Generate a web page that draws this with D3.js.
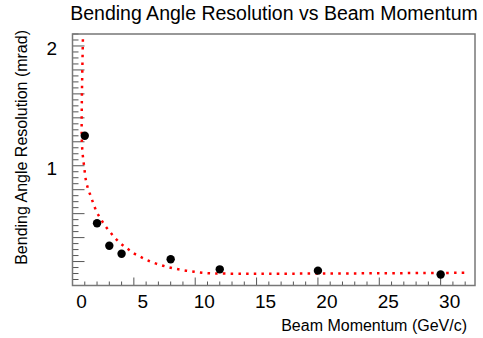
<!DOCTYPE html>
<html>
<head>
<meta charset="utf-8">
<script src="https://cdn.jsdelivr.net/npm/d3@7"></script>
<style>
  body { margin: 0; background: #fff; }
  text { font-family: "Liberation Sans", Arial, sans-serif; fill: #000; }
</style>
</head>
<body>
<svg></svg>
<script>
const width = 483, height = 338;
const svg = d3.select("svg").attr("width", width).attr("height", height);

// measured points
const momentum = [1, 2, 3, 4, 8, 12, 20, 30];
const resolution = [1.25, 0.52, 0.332, 0.265, 0.219, 0.135, 0.124, 0.092];

// fit curve
const fitX = [0.86, 0.80, 0.76, 0.75, 0.80, 0.94, 1.10, 1.29, 1.51, 1.73, 1.97, 2.30, 2.65, 3.03, 3.44, 3.93,
              4.45, 4.96, 5.53, 6.13, 6.75, 7.38, 8.0, 8.63, 9.26, 9.91, 10.56, 11.2, 12, 14, 16, 20, 25, 30, 32.2];
const fitY = [2.12, 1.80, 1.53, 1.27, 1.13, 1.00, 0.875, 0.80, 0.74, 0.675, 0.615, 0.555, 0.50, 0.45, 0.40, 0.35,
              0.31, 0.27, 0.24, 0.21, 0.185, 0.165, 0.148, 0.135, 0.124, 0.115, 0.107, 0.102, 0.10, 0.098, 0.098, 0.10, 0.102, 0.105, 0.106];

const xTickLabels = ["0", "5", "10", "15", "20", "25", "30"];
const yTickLabels = ["1", "2"];

const frameL = 72.5, frameR = 475, frameT = 34, frameB = 285.5;

const x = d3.scaleLinear().domain([0, 32.8]).range([frameL, frameR]);
const y = d3.scaleLinear().domain([0, 2.1]).range([frameB, frameT]);

// title
svg.append("text")
    .attr("x", 274).attr("y", 20)
    .attr("text-anchor", "middle")
    .attr("font-size", "19.5px")
    .text("Bending Angle Resolution vs Beam Momentum");

// x ticks: every 1, long every 5
const xTicks = d3.range(0, 33, 1);
svg.selectAll(".xtick").data(xTicks).enter().append("line")
    .attr("x1", d => x(d)).attr("x2", d => x(d))
    .attr("y1", frameB)
    .attr("y2", d => d % 5 === 0 ? frameB - 8 : frameB - 4)
    .attr("stroke", "#555").attr("stroke-width", 1);

svg.selectAll(".xlab").data(xTickLabels).enter().append("text")
    .attr("x", d => x(+d) + 9)
    .attr("y", 308)
    .attr("text-anchor", "middle")
    .attr("font-size", "19px")
    .text(d => d);

// y ticks: every 0.05, longer every 0.2
const yTicks = d3.range(1, 43).map(i => i * 0.05);
svg.selectAll(".ytick").data(yTicks).enter().append("line")
    .attr("x1", frameL)
    .attr("x2", d => {
        const k = Math.round(d / 0.05);
        return k % 4 === 0 || k % 20 === 0 ? frameL + 12 : frameL + 6;
    })
    .attr("y1", d => y(d)).attr("y2", d => y(d))
    .attr("stroke", "#555").attr("stroke-width", 1);

svg.selectAll(".ylab").data(yTickLabels).enter().append("text")
    .attr("x", 57)
    .attr("y", d => y(+d) + 9)
    .attr("text-anchor", "end")
    .attr("font-size", "19px")
    .text(d => d);

// axis titles
svg.append("text")
    .attr("x", 467).attr("y", 331)
    .attr("text-anchor", "end")
    .attr("font-size", "16px")
    .text("Beam Momentum (GeV/c)");

svg.append("text")
    .attr("transform", "translate(27,30) rotate(-90)")
    .attr("text-anchor", "end")
    .attr("font-size", "16px")
    .text("Bending Angle Resolution (mrad)");

// fit curve, dotted red, clipped to the frame
svg.append("clipPath").attr("id", "frame")
    .append("rect")
    .attr("x", frameL).attr("y", frameT)
    .attr("width", frameR - frameL).attr("height", frameB - frameT);

const fit = fitX.map((d, i) => [d, fitY[i]]);
svg.append("path")
    .datum(fit)
    .attr("clip-path", "url(#frame)")
    .attr("fill", "none")
    .attr("stroke", "#ff0000")
    .attr("stroke-width", 2.5)
    .attr("stroke-dasharray", "2.5,5.2")
    .attr("d", d3.line().x(d => x(d[0])).y(d => y(d[1])).curve(d3.curveCatmullRom));

// data points
svg.selectAll(".pt").data(momentum).enter().append("circle")
    .attr("cx", d => x(d))
    .attr("cy", (d, i) => y(resolution[i]))
    .attr("r", 4.2)
    .attr("fill", "#000");

// frame
svg.append("rect")
    .attr("x", frameL).attr("y", frameT)
    .attr("width", frameR - frameL).attr("height", frameB - frameT)
    .attr("fill", "none")
    .attr("stroke", "#777").attr("stroke-width", 1.5);
</script>
</body>
</html>
